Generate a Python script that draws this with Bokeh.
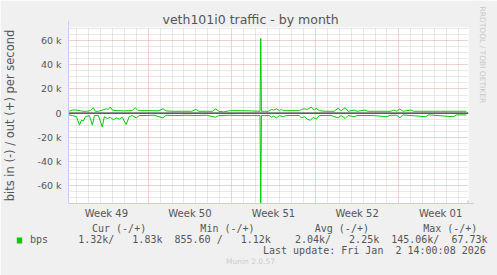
from bokeh.plotting import figure
from bokeh.models import Range1d, FixedTicker, Grid, Label, Arrow, NormalHead, Title
from bokeh.embed import file_html
from bokeh.resources import INLINE

# ---- data (x in days from start of graph, values in k bits/s) ----
out_days = [0.00, 0.33, 0.67, 1.00, 1.17, 1.50, 1.83, 2.08, 2.25, 2.50, 2.83, 3.17, 3.33, 3.50,
            3.67, 4.00, 4.33, 4.67, 5.00, 5.33, 5.58, 5.83, 6.33, 7.00, 7.50, 7.92, 8.17, 8.67,
            9.50, 10.33, 10.67, 10.92, 11.67, 12.08, 12.33, 12.58, 13.00, 13.50, 14.50, 15.33,
            16.04, 16.10, 16.16, 16.42, 16.75, 17.00, 17.17, 17.42, 17.67, 17.83, 18.00,
            18.67, 19.33, 19.50, 19.75, 20.00, 20.33, 20.58, 20.75, 21.00, 21.50, 22.25, 22.58,
            22.83, 23.17, 23.42, 23.92, 24.17, 24.83, 25.08, 26.17, 27.00, 27.25, 27.50, 27.75,
            28.00, 28.67, 28.92, 31.17, 33.33]
out_k = [1.5, 2.5, 2.5, 2.0, 1.5, 1.5, 2.0, 4.5, 1.5, 1.5, 2.5, 3.5, 3.0, 5.0,
         2.5, 2.0, 2.0, 1.8, 2.0, 2.0, 4.5, 2.0, 2.0, 2.0, 1.8, 3.5, 1.8, 1.5,
         1.5, 1.5, 3.0, 1.5, 1.5, 1.5, 3.5, 1.5, 1.0, 2.0, 2.0, 1.8,
         1.5, 62.0, 1.5, 1.5, 1.5, 3.0, 2.5, 3.5, 2.0, 3.0, 2.0,
         2.0, 2.0, 3.0, 3.5, 3.0, 5.0, 2.5, 4.0, 2.0, 1.5, 1.5, 4.0,
         2.0, 4.5, 1.5, 2.5, 1.5, 2.5, 1.5, 1.5, 1.5, 2.5, 1.5, 3.5,
         1.5, 2.5, 1.5, 1.5, 1.5]

in_days = [0.00, 0.33, 0.67, 0.92, 1.08, 1.25, 1.42, 1.75, 2.00, 2.17, 2.50, 2.83, 3.00, 3.25,
           3.50, 3.75, 4.00, 4.25, 4.50, 4.83, 5.08, 5.33, 5.67, 5.92, 6.58, 7.17, 7.92, 8.17,
           9.08, 9.92, 10.67, 11.58, 12.33, 12.58, 13.50, 14.50, 15.33, 16.04, 16.10,
           16.16, 16.42, 16.83, 17.00, 17.17, 17.42, 17.67, 18.00, 18.25, 19.33, 19.50, 19.75,
           20.00, 20.25, 20.50, 20.75, 21.00, 22.00, 22.58, 22.83, 23.17, 23.42, 23.92, 24.17,
           25.50, 26.67, 26.92, 27.50, 27.75, 28.00, 29.92, 30.17, 32.25, 32.50, 33.33]
in_k = [-1.5, -2.0, -3.0, -10.0, -6.0, -6.5, -3.0, -2.0, -10.0, -2.0, -2.0, -11.5, -3.0, -4.5,
        -3.5, -5.5, -4.0, -5.0, -3.5, -9.5, -3.0, -2.0, -4.0, -2.0, -2.0, -1.8, -4.0, -1.8,
        -2.0, -1.8, -2.0, -1.8, -3.5, -2.0, -1.8, -2.0, -2.0, -2.0, -76.0,
        -2.0, -2.0, -2.0, -3.5, -2.5, -4.0, -2.0, -3.0, -2.0, -2.0, -4.0, -3.0,
        -5.0, -6.0, -3.5, -5.0, -2.0, -2.0, -4.0, -2.0, -4.5, -2.0, -3.0, -2.0,
        -2.0, -3.0, -1.8, -1.8, -4.0, -1.5, -3.0, -1.5, -3.0, -1.5, -1.5]

y_ticks = [-60000, -40000, -20000, 0, 20000, 40000, 60000]
y_tick_labels = ["-60 k", "-40 k", "-20 k", "0", "20 k", "40 k", "60 k"]
week_mid = [3.17, 10.17, 17.17, 24.17, 31.17]
week_labels = ["Week 49", "Week 50", "Week 51", "Week 52", "Week 01"]
week_bounds = [6.67, 13.67, 20.67, 27.67]
day_lines = [0.67 + d for d in range(33)]

title = "veth101i0 traffic - by month"
y_title = "bits in (-) / out (+) per second"
legend_name = "bps"
col_heads = ["Cur (-/+)", "Min (-/+)", "Avg (-/+)", "Max (-/+)"]
col_in = ["1.32k/", "855.60 /", "2.04k/", "145.06k/"]
col_out = ["1.83k", "1.12k", "2.25k", "67.73k"]
last_update = ("Last update: Fri Jan", "2 14:00:08 2026")
credit = "Munin 2.0.57"
side_text = "RRDTOOL / TOBI OETIKER"

GREEN = "#00CC00"
TXT = "#555555"
AXIS = "#c8c8f2"
MGRID = "#e5a3a3"
GRID = "#d0d0d0"
MONO = "DejaVu Sans Mono"
N = "\u00a0"

W, H = 497, 275
FL, FR, FT, FB = 66, 29, 27, 72

p = figure(width=W, height=H, output_backend="svg", toolbar_location=None,
           x_range=Range1d(0, 33.5), y_range=Range1d(-75000, 71000),
           min_border_left=FL, min_border_right=FR, min_border_top=FT, min_border_bottom=FB)
p.background_fill_color = "white"
p.border_fill_color = "#F0F0F0"
p.outline_line_color = None
for g in p.grid:
    g.visible = False

# grids
p.add_layout(Grid(dimension=0, ticker=FixedTicker(ticks=[d for d in day_lines if all(abs(d - b) > 0.1 for b in week_bounds)]),
                  grid_line_color=GRID, grid_line_dash="1 1"))
p.add_layout(Grid(dimension=0, ticker=FixedTicker(ticks=week_bounds),
                  grid_line_color=MGRID, grid_line_dash="1 1"))
minor_y = [v for v in range(-70000, 70001, 5000) if v % 20000 != 0]
p.add_layout(Grid(dimension=1, ticker=FixedTicker(ticks=y_ticks, minor_ticks=minor_y),
                  grid_line_color=MGRID, grid_line_dash="1 1",
                  minor_grid_line_color=GRID, minor_grid_line_dash="1 1"))

# axes
p.yaxis.ticker = FixedTicker(ticks=y_ticks)
p.yaxis.major_label_overrides = {t: l for t, l in zip(y_ticks, y_tick_labels)}
p.xaxis.ticker = FixedTicker(ticks=week_mid)
p.xaxis.major_label_overrides = {t: l for t, l in zip(week_mid, week_labels)}
for ax in (p.xaxis, p.yaxis):
    ax.axis_line_color = AXIS
    ax.major_tick_line_color = None
    ax.minor_tick_line_color = None
    ax.major_tick_out = 0
    ax.major_tick_in = 0
    ax.minor_tick_out = 0
    ax.minor_tick_in = 0
    ax.major_label_text_color = TXT
    ax.major_label_text_font = "DejaVu Sans"
p.yaxis.major_label_text_font_size = "9.5px"
p.xaxis.major_label_text_font_size = "10px"
p.yaxis.major_label_standoff = 7
p.xaxis.major_label_standoff = 4
p.yaxis.axis_label = y_title
p.yaxis.axis_label_text_font = "DejaVu Sans"
p.yaxis.axis_label_text_font_size = "11.5px"
p.yaxis.axis_label_text_font_style = "normal"
p.yaxis.axis_label_text_color = TXT
p.yaxis.axis_label_standoff = 17

# zero line then data
p.line(x=[0, 33.5], y=[0, 0], line_color="black", line_width=1)
p.line(x=out_days, y=[v * 1000 for v in out_k], line_color=GREEN, line_width=1)
p.line(x=in_days, y=[v * 1000 for v in in_k], line_color=GREEN, line_width=1)

# axis arrows
p.add_layout(Arrow(end=NormalHead(size=6, fill_color=AXIS, line_color=AXIS),
                   x_start=0, y_start=71000, x_end=0, y_end=76500, line_color=AXIS))
p.add_layout(Arrow(end=NormalHead(size=6, fill_color=AXIS, line_color=AXIS),
                   x_start=33.5, y_start=-75000, x_end=33.95, y_end=-75000, line_color=AXIS))

# title
p.title.text = title
p.title.text_font = "DejaVu Sans"
p.title.text_font_size = "12.5px"
p.title.text_font_style = "normal"
p.title.text_color = TXT
p.title.align = "left"
p.title.offset = 94
p.title.standoff = 2

# vertical credit on the right
p.add_layout(Title(text=side_text, align="left", offset=-21, standoff=18, text_font="DejaVu Sans",
                   text_font_size="7.5px", text_font_style="normal", text_color="#c8c8c8"), "right")

# legend rows (monospace, fixed columns)
row1 = col_heads[0] + N * 9 + col_heads[1] + N * 10 + col_heads[2] + N * 9 + col_heads[3]
row2 = (legend_name + N * 5 + col_in[0] + N * 3 + col_out[0] + N * 2 + col_in[1] + N * 3 + col_out[1]
        + N * 4 + col_in[2] + N * 3 + col_out[2] + N * 2 + col_in[3] + N * 2 + col_out[3])
row3 = last_update[0] + N * 2 + last_update[1]


def row_title(txt, off):
    kw = dict(text=txt, align="left", offset=off, text_font=MONO, text_font_size="10px",
              text_font_style="normal", text_color=TXT)
    try:
        return Title(standoff=-2, **kw)
    except Exception:
        return Title(standoff=0, **kw)


for txt, off in ((row1, 23.5), (row2, -38.5), (row3, 194.5)):
    p.add_layout(row_title(txt, off), "below")
p.add_layout(Title(text=credit, align="left", offset=157.5, standoff=0, text_font="DejaVu Sans",
                   text_font_size="7.5px", text_font_style="normal", text_color="#cccccc"), "below")

# legend colour swatch
p.add_layout(Label(x=17 - FL, y=31, x_units="screen", y_units="screen", text=N, text_font_size="5px",
                   text_align="center", text_baseline="middle", background_fill_color=GREEN,
                   padding=(2, 0)), "below")

open("out.html", "w").write(file_html(p, INLINE))
